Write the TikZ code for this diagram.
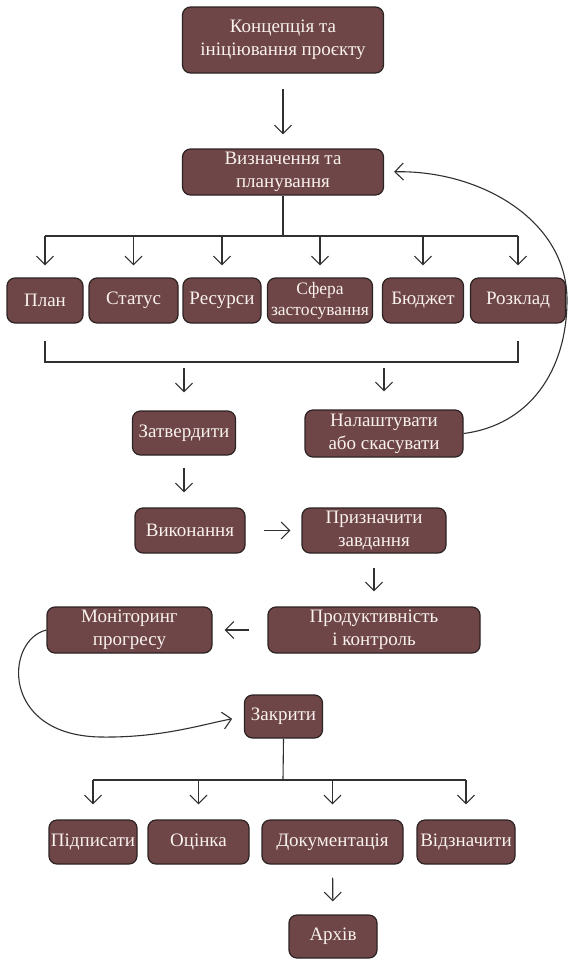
\documentclass[tikz,border=0pt]{standalone}
\usepackage{fontspec}
\setmainfont{Liberation Serif}
\usetikzlibrary{arrows.meta}
\definecolor{boxfill}{RGB}{111,70,72}
\definecolor{boxline}{RGB}{45,34,34}
\definecolor{boxtext}{RGB}{248,241,237}
\definecolor{wire}{RGB}{48,48,48}
\begin{document}
\begin{tikzpicture}[x=1pt,y=-1pt,
  card/.style={draw=boxline, line width=1.2pt, fill=boxfill,
    rounded corners=8pt, text=boxtext, align=center, inner sep=0pt,
    font=\fontsize{19}{23}\selectfont},
  wireline/.style={draw=wire, line width=1.1pt},
  arr/.style={wireline, -{Straight Barb[length=8.5pt,width=17pt]}}]

\fill[white] (0,0) rectangle (569,959);
\useasboundingbox (0,0) rectangle (569,959);

% top of the process
\node[card, minimum width=201pt, minimum height=66pt] (concept) at (283,40)
  {Концепція та\\ініціювання проєкту};
\node[card, minimum width=201pt, minimum height=46pt] (define) at (283,172)
  {Визначення та\\планування};

% planning outputs
\node[card, minimum width=76pt,  minimum height=45pt] (plan)   at (45,300.5)  {План};
\node[card, minimum width=89pt,  minimum height=45pt] (status) at (133.5,300.5) {Статус};
\node[card, minimum width=78pt,  minimum height=45pt] (res)    at (222,300.5) {Ресурси};
\node[card, minimum width=105pt, minimum height=45pt,
      font=\fontsize{17.5}{21}\selectfont] (scope)  at (320,300.5) {Сфера\\застосування};
\node[card, minimum width=81pt,  minimum height=45pt] (budget) at (423,300.5) {Бюджет};
\node[card, minimum width=95pt,  minimum height=45pt] (sched)  at (518,300.5) {Розклад};

% decision
\node[card, minimum width=103pt, minimum height=44pt] (approve) at (184,433)   {Затвердити};
\node[card, minimum width=158pt, minimum height=47pt] (adjust)  at (384,433.5) {Налаштувати\\або скасувати};

% execution loop
\node[card, minimum width=110pt, minimum height=45pt] (exec)    at (190,530.5) {Виконання};
\node[card, minimum width=144pt, minimum height=45pt] (assign)  at (374,530.5) {Призначити\\завдання};
\node[card, minimum width=212pt, minimum height=46pt] (perf)    at (374,630)   {Продуктивність\\і контроль};
\node[card, minimum width=165pt, minimum height=46pt] (monitor) at (129.5,630) {Моніторинг\\прогресу};

% closing
\node[card, minimum width=78pt,  minimum height=43pt] (close) at (283.5,716.5) {Закрити};
\node[card, minimum width=88pt,  minimum height=44pt] (sign)  at (93,842)    {Підписати};
\node[card, minimum width=101pt, minimum height=44pt] (eval)  at (198.5,842) {Оцінка};
\node[card, minimum width=141pt, minimum height=44pt] (doc)   at (332.5,842) {Документація};
\node[card, minimum width=98pt,  minimum height=44pt] (mark)  at (466,842)   {Відзначити};
\node[card, minimum width=88pt,  minimum height=43pt] (arch)  at (333,936.5) {Архів};

% junction points
\coordinate (fork) at (283,236);
\coordinate (join) at (283,362);
\coordinate (fork2) at (283,780);

% concept -> definition
\draw[arr, shorten <=15pt, shorten >=14pt] (concept) -- (define);

% definition fans out to its outputs
\draw[wireline] (define.south) -- (fork);
\draw[wireline] (plan.north |- fork) -- (sched.north |- fork);
\foreach \n in {plan,status,res,scope,budget,sched}
  \draw[arr, shorten >=12pt] (\n.north |- fork) -- (\n.north);

% outputs gathered into the decision
\draw[wireline, shorten <=17pt, shorten >=17pt]
  (plan.south) -- (plan.south |- join) -- (sched.south |- join) -- (sched.south);
\draw[arr, shorten <=6pt, shorten >=18pt] (approve.north |- join) -- (approve.north);
\draw[arr, shorten <=6pt, shorten >=18pt] (adjust.north |- join) -- (adjust.north);

% back to planning
\draw[wireline, -{Straight Barb[length=8.5pt,width=17pt]}, shorten >=10pt]
  (adjust.east) .. controls (530,425) and (567,370) .. (567,300)
  .. controls (567,220) and (480,170) .. (define.east);

% execution chain
\draw[arr, shorten <=12pt, shorten >=15pt] (approve.south) -- (approve.south |- exec.north);
\draw[arr, shorten <=18pt, shorten >=11pt] (exec) -- (assign);
\draw[arr, shorten <=14pt, shorten >=15pt] (assign) -- (perf);
\draw[arr, shorten <=18pt, shorten >=12pt] (perf) -- (monitor);

% monitoring leads to closing
\draw[wireline, -{Straight Barb[length=8.5pt,width=17pt]}, shorten >=12pt]
  (monitor.west) .. controls (5,640) and (0,735) .. (100,737)
  .. controls (160,738) and (200,725) .. (close.west);

% closing fans out
\draw[wireline] (close.south) -- (fork2);
\draw[wireline] (sign.north |- fork2) -- (mark.north |- fork2);
\foreach \n in {sign,eval,doc,mark}
  \draw[arr, shorten >=15pt] (\n.north |- fork2) -- (\n.north);

\draw[arr, shorten <=13pt, shorten >=13pt] (doc) -- (arch);

\end{tikzpicture}
\end{document}
